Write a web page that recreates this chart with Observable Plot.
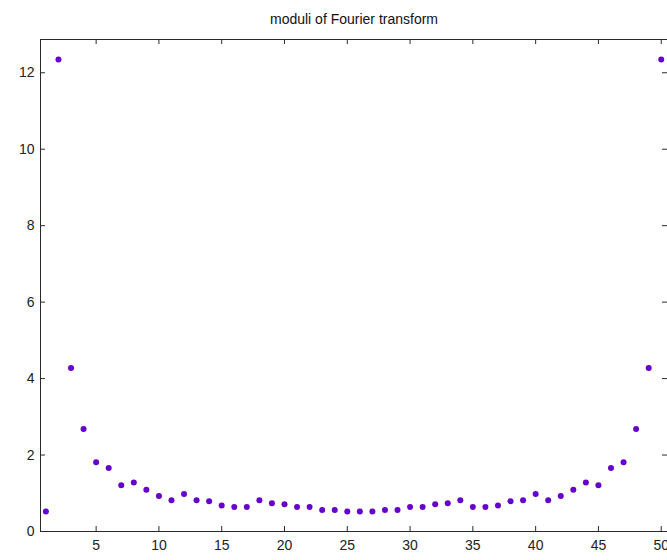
<!DOCTYPE html>
<html>
<head>
<meta charset="utf-8">
<script src="https://cdn.jsdelivr.net/npm/d3@7"></script>
<script src="https://cdn.jsdelivr.net/npm/@observablehq/plot@0.6"></script>
<style>
  html, body { margin: 0; padding: 0; background: #fff; overflow: hidden; }
</style>
</head>
<body>
<div id="chart"></div>
<script>
const titleText = "moduli of Fourier transform";
const index = [1,2,3,4,5,6,7,8,9,10,11,12,13,14,15,16,17,18,19,20,21,22,23,24,25,
               26,27,28,29,30,31,32,33,34,35,36,37,38,39,40,41,42,43,44,45,46,47,48,49,50];
const moduli = [0.52, 12.35, 4.28, 2.68, 1.81, 1.66, 1.21, 1.28, 1.09, 0.93,
                0.82, 0.98, 0.82, 0.79, 0.68, 0.64, 0.64, 0.82, 0.74, 0.71,
                0.64, 0.64, 0.56, 0.56, 0.52, 0.52, 0.52, 0.56, 0.56, 0.64,
                0.64, 0.71, 0.74, 0.82, 0.64, 0.64, 0.68, 0.79, 0.82, 0.98,
                0.82, 0.93, 1.09, 1.28, 1.21, 1.66, 1.81, 2.68, 4.28, 12.35];
const xTicks = [5, 10, 15, 20, 25, 30, 35, 40, 45, 50];
const yTicks = [0, 2, 4, 6, 8, 10, 12];
const xDomain = [0.57, 50.5];
const yDomain = [0, 12.87];

const data = index.map((k, i) => ({k, m: moduli[i]}));

const W = 667, H = 560;
const mL = 40, mR = 0, mT = 39, mB = 29;
const frameW = W - mL - mR, frameH = H - mT - mB;
const tickLen = 5;
const axisColor = "#2a2a2a";

const chart = Plot.plot({
  width: W,
  height: H,
  marginLeft: mL,
  marginRight: mR,
  marginTop: mT,
  marginBottom: mB,
  style: {fontFamily: "'Liberation Sans', Arial, sans-serif", fontSize: "14px", color: "#222", background: "#fff"},
  x: {domain: xDomain},
  y: {domain: yDomain},
  marks: [
    // frame: left, top, bottom (right edge is off-canvas)
    Plot.ruleX([xDomain[0]], {stroke: axisColor}),
    Plot.ruleY([yDomain[0]], {stroke: axisColor}),
    Plot.ruleY([yDomain[1]], {stroke: axisColor}),
    // inward ticks
    Plot.tickX(xTicks, {x: d => d, stroke: axisColor, insetTop: frameH - tickLen}),
    Plot.tickX(xTicks, {x: d => d, stroke: axisColor, insetBottom: frameH - tickLen}),
    Plot.tickY(yTicks, {y: d => d, stroke: axisColor, insetRight: frameW - tickLen}),
    Plot.tickY(yTicks, {y: d => d, stroke: axisColor, insetLeft: frameW - tickLen}),
    // tick labels
    Plot.axisX({anchor: "bottom", ticks: xTicks, tickSize: 0, tickPadding: 9, label: null, fill: "#222"}),
    Plot.axisY({anchor: "left", ticks: yTicks, tickSize: 0, tickPadding: 6, label: null, fill: "#222"}),
    // data
    Plot.dot(data, {x: "k", y: "m", r: 3, fill: "#6600cc", stroke: "none"}),
    // title
    Plot.text([titleText], {frameAnchor: "top", dy: -16, lineAnchor: "bottom", textAnchor: "middle",
      fontSize: 14, letterSpacing: "1.4px", fill: "#111"})
  ]
});
document.getElementById("chart").appendChild(chart);
</script>
</body>
</html>
